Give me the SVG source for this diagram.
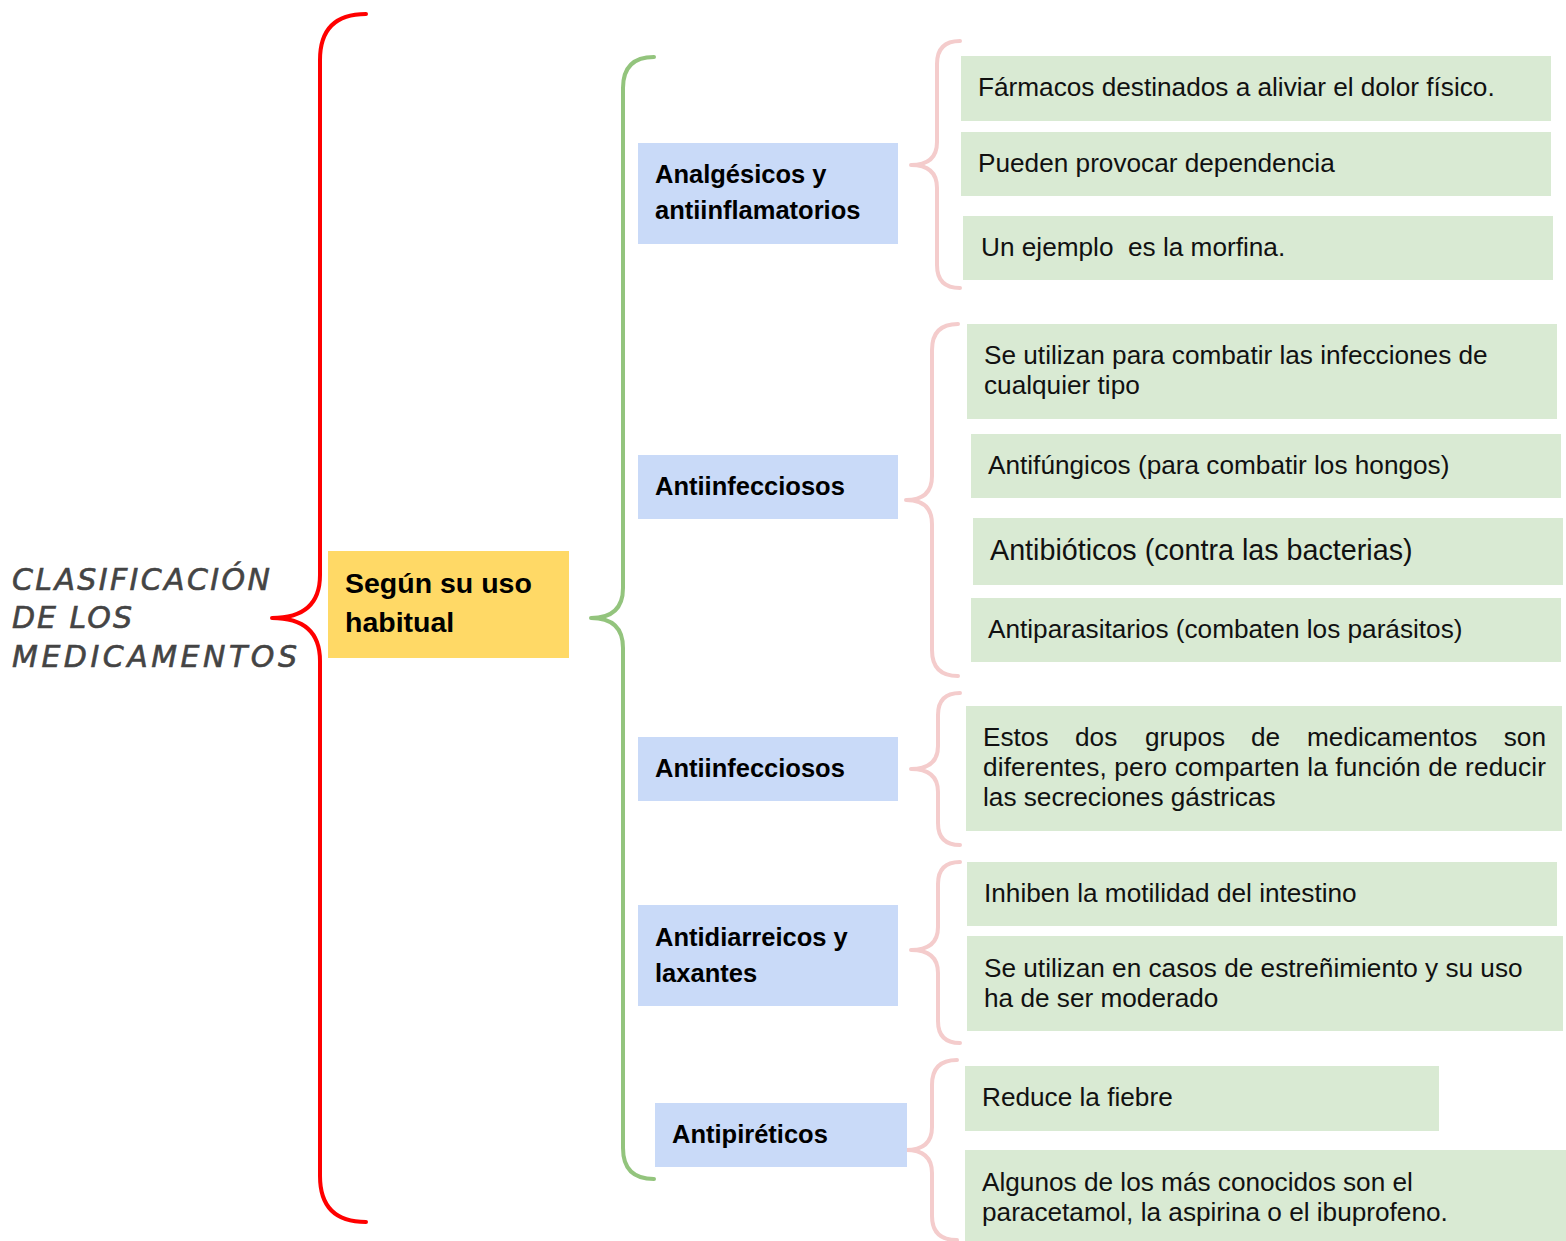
<svg xmlns="http://www.w3.org/2000/svg" width="1566" height="1241" viewBox="0 0 1566 1241">
<style>
.bg{fill:#ffffff}
.br{fill:none;stroke-linecap:round;stroke-linejoin:round;stroke-width:4}
.red{stroke:#ff0000}
.grn{stroke:#93c47d}
.pnk{stroke:#f4cccc}
.yel{fill:#ffd966}
.blu{fill:#c9daf8}
.gbx{fill:#d9ead3}
.title{font-family:"DejaVu Sans","Liberation Sans",sans-serif;font-style:italic;font-size:30px;fill:#444444;stroke:#444444;stroke-width:0.6}
.bold{font-family:"Liberation Sans",Arial,sans-serif;font-weight:bold;font-size:25.5px;fill:#000}
.big{font-size:28.5px}
.body{font-family:"Liberation Sans",Arial,sans-serif;font-size:26.2px;fill:#111}
</style>
<rect class="bg" x="0" y="0" width="1566" height="1241"/>
<g id="connectors">
<path class="br red" d="M366,14 Q320,14 320,60 L320,575 Q320,618 272,618 Q320,618 320,661 L320,1176 Q320,1222 366,1222"/>
<path class="br grn" d="M654,57 Q623,57 623,88 L623,588 Q623,618 591,618 Q623,618 623,648 L623,1148 Q623,1179 654,1179"/>
<path class="br pnk" d="M960,41 Q937,41 937,64 L937,142 Q937,165 911,165 Q937,165 937,188 L937,265 Q937,288 960,288"/>
<path class="br pnk" d="M958,324 Q932,324 932,350 L932,476 Q932,500 906,500 Q932,500 932,524 L932,650 Q932,676 958,676"/>
<path class="br pnk" d="M960,693 Q938,693 938,715 L938,746 Q938,769 911,769 Q938,769 938,792 L938,823 Q938,845 960,845"/>
<path class="br pnk" d="M960,862 Q938,862 938,884 L938,927 Q938,950 911,950 Q938,950 938,973 L938,1021 Q938,1043 960,1043"/>
<path class="br pnk" d="M957,1060 Q932,1060 932,1085 L932,1127 Q932,1150 906,1150 Q932,1150 932,1173 L932,1216 Q932,1240 957,1240"/>
</g>
<g id="title">
<text class="title" x="12" y="590" textLength="258" lengthAdjust="spacing">CLASIFICACIÓN</text>
<text class="title" x="12" y="628" textLength="120" lengthAdjust="spacing">DE LOS</text>
<text class="title" x="12" y="667" textLength="285" lengthAdjust="spacing">MEDICAMENTOS</text>
</g>
<g id="uso">
<rect class="yel" x="328" y="551" width="241" height="107"/>
<text class="bold big" x="345" y="593">Según su uso</text>
<text class="bold big" x="345" y="632">habitual</text>
</g>
<g id="analgesicos">
<rect class="blu" x="638" y="143" width="260" height="101"/>
<text class="bold" x="655" y="183">Analgésicos y</text>
<text class="bold" x="655" y="219">antiinflamatorios</text>
</g>
<g id="antiinfecciosos1">
<rect class="blu" x="638" y="455" width="260" height="64"/>
<text class="bold" x="655" y="495">Antiinfecciosos</text>
</g>
<g id="antiinfecciosos2">
<rect class="blu" x="638" y="737" width="260" height="64"/>
<text class="bold" x="655" y="777">Antiinfecciosos</text>
</g>
<g id="antidiarreicos">
<rect class="blu" x="638" y="905" width="260" height="101"/>
<text class="bold" x="655" y="946">Antidiarreicos y</text>
<text class="bold" x="655" y="982">laxantes</text>
</g>
<g id="antipireticos">
<rect class="blu" x="655" y="1103" width="252" height="64"/>
<text class="bold" x="672" y="1143">Antipiréticos</text>
</g>
<g id="g1">
<rect class="gbx" x="961" y="56" width="590" height="65"/>
<text class="body" x="978" y="96">Fármacos destinados a aliviar el dolor físico.</text>
</g>
<g id="g2">
<rect class="gbx" x="961" y="132" width="590" height="64"/>
<text class="body" x="978" y="172">Pueden provocar dependencia</text>
</g>
<g id="g3">
<rect class="gbx" x="963" y="216" width="590" height="64"/>
<text class="body" x="981" y="256" xml:space="preserve">Un ejemplo  es la morfina.</text>
</g>
<g id="g4">
<rect class="gbx" x="967" y="324" width="590" height="95"/>
<text class="body" x="984" y="364">Se utilizan para combatir las infecciones de</text>
<text class="body" x="984" y="394">cualquier tipo</text>
</g>
<g id="g5">
<rect class="gbx" x="971" y="434" width="590" height="64"/>
<text class="body" x="988" y="474">Antifúngicos (para combatir los hongos)</text>
</g>
<g id="g6">
<rect class="gbx" x="973" y="518" width="590" height="67"/>
<text class="body" x="990" y="560" style="font-size:28.7px">Antibióticos (contra las bacterias)</text>
</g>
<g id="g7">
<rect class="gbx" x="971" y="598" width="590" height="64"/>
<text class="body" x="988" y="638">Antiparasitarios (combaten los parásitos)</text>
</g>
<g id="g8">
<rect class="gbx" x="966" y="706" width="596" height="125"/>
<text class="body" y="746"><tspan x="983">Estos</tspan><tspan x="1075">dos</tspan><tspan x="1145">grupos</tspan><tspan x="1251">de</tspan><tspan x="1307">medicamentos</tspan><tspan x="1546" text-anchor="end">son</tspan></text>
<text class="body" x="983" y="776" textLength="563" lengthAdjust="spacing">diferentes, pero comparten la función de reducir</text>
<text class="body" x="983" y="806">las secreciones gástricas</text>
</g>
<g id="g9">
<rect class="gbx" x="967" y="862" width="590" height="64"/>
<text class="body" x="984" y="902">Inhiben la motilidad del intestino</text>
</g>
<g id="g10">
<rect class="gbx" x="967" y="936" width="596" height="95"/>
<text class="body" x="984" y="977">Se utilizan en casos de estreñimiento y su uso</text>
<text class="body" x="984" y="1007">ha de ser moderado</text>
</g>
<g id="g11">
<rect class="gbx" x="965" y="1066" width="474" height="65"/>
<text class="body" x="982" y="1106">Reduce la fiebre</text>
</g>
<g id="g12">
<rect class="gbx" x="965" y="1150" width="601" height="91"/>
<text class="body" x="982" y="1191">Algunos de los más conocidos son el</text>
<text class="body" x="982" y="1221">paracetamol, la aspirina o el ibuprofeno.</text>
</g>
</svg>
